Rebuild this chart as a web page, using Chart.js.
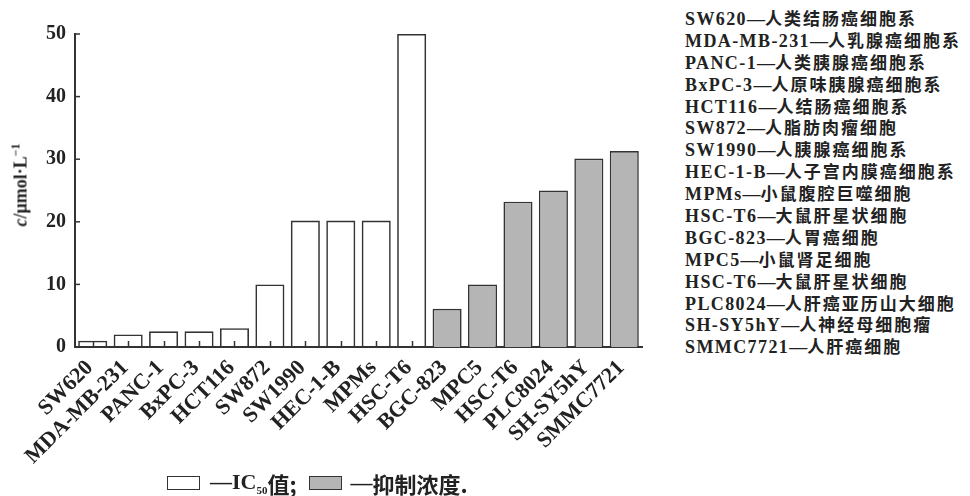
<!DOCTYPE html>
<html>
<head>
<meta charset="utf-8">
<script src="https://cdn.jsdelivr.net/npm/chart.js@4.4.1/dist/chart.umd.min.js"></script>
<style>
  body { margin: 0; background: #fff; }
  #wrap { position: relative; width: 970px; height: 496px; overflow: hidden; }
  #chartBox { position: absolute; left: 0; top: 0; width: 660px; height: 470px; }
  #yTitle {
    position: absolute; left: 20px; top: 185px;
    transform: translate(-50%, -50%) rotate(-90deg);
    font: bold 18px "Liberation Serif", serif; color: #222; white-space: nowrap;
  }
  #yTitle sup { font-size: 12px; }
  #legend {
    position: absolute; left: 167px; top: 471px; white-space: nowrap;
    font: bold 22px "Liberation Serif", "Noto Sans CJK SC", serif; color: #222;
    display: flex; align-items: center; height: 24px;
  }
  .lbox { display: inline-block; width: 31px; height: 12px; border: 1.5px solid #333; }
  .lbox.gray { background: #b5b5b5; }
  #legend sub { font-size: 11px; }
  .zh { font-family: "Noto Sans CJK SC", sans-serif; font-weight: 700; }
  #cells {
    position: absolute; left: 685px; top: 7px; color: #222;
    font: bold 18px "Liberation Serif", serif;
  }
  #cells div { height: 21.9px; line-height: 21.9px; white-space: nowrap; }
  #cells .en { letter-spacing: 1.4px; }
  #cells .zh { font-size: 17px; letter-spacing: 2px; font-weight: 600; }
</style>
</head>
<body>
<div id="wrap">
  <div id="chartBox"><canvas id="barCanvas"></canvas></div>
  <div id="yTitle"><i>c</i>/μmol·L<sup>−1</sup></div>
  <div id="legend">
    <span class="lbox"></span><span style="margin-left:10px">—IC<sub>50</sub></span><span class="zh">值;</span>
    <span class="lbox gray" style="margin-left:12px"></span><span style="margin-left:9px">—</span><span class="zh">抑制浓度.</span>
  </div>
  <div id="cells"></div>
</div>
<script>
const categories = ["SW620", "MDA-MB-231", "PANC-1", "BxPC-3", "HCT116", "SW872", "SW1990",
  "HEC-1-B", "MPMs", "HSC-T6", "BGC-823", "MPC5", "HSC-T6", "PLC8024", "SH-SY5hY", "SMMC7721"];
const ic50Values = [1.0, 2.0, 2.5, 2.5, 3.0, 10.0, 20.2, 20.2, 20.2, 50.0];
const inhibitValues = [6.1, 10.0, 23.2, 25.0, 30.1, 31.3];
const yTicks = [0, 10, 20, 30, 40, 50];
const cellNames = ["SW620", "MDA-MB-231", "PANC-1", "BxPC-3", "HCT116", "SW872", "SW1990", "HEC-1-B",
  "MPMs", "HSC-T6", "BGC-823", "MPC5", "HSC-T6", "PLC8024", "SH-SY5hY", "SMMC7721"];
const cellDesc = ["人类结肠癌细胞系", "人乳腺癌细胞系", "人类胰腺癌细胞系", "人原味胰腺癌细胞系",
  "人结肠癌细胞系", "人脂肪肉瘤细胞", "人胰腺癌细胞系", "人子宫内膜癌细胞系", "小鼠腹腔巨噬细胞",
  "大鼠肝星状细胞", "人胃癌细胞", "小鼠肾足细胞", "大鼠肝星状细胞", "人肝癌亚历山大细胞",
  "人神经母细胞瘤", "人肝癌细胞"];

// side list
const cells = document.getElementById("cells");
cellNames.forEach((n, i) => {
  const d = document.createElement("div");
  d.innerHTML = '<span class="en">' + n + '</span>—<span class="zh">' + cellDesc[i] + '</span>';
  cells.appendChild(d);
});

const ic50Data = ic50Values.concat(inhibitValues.map(() => null));
const inhibitData = ic50Values.map(() => null).concat(inhibitValues);

// inward tick marks, drawn under the bars
const innerTicks = {
  id: "innerTicks",
  beforeDatasetsDraw(chart) {
    const { ctx, chartArea, scales: { x, y } } = chart;
    ctx.save();
    ctx.strokeStyle = "#333";
    ctx.lineWidth = 1.5;
    x.ticks.forEach((t, i) => {
      const px = Math.round(x.getPixelForTick(i)) + 0.5;
      ctx.beginPath(); ctx.moveTo(px, chartArea.bottom); ctx.lineTo(px, chartArea.bottom - 6); ctx.stroke();
    });
    y.ticks.forEach((t, i) => {
      const py = y.getPixelForTick(i);
      ctx.beginPath(); ctx.moveTo(chartArea.left, py); ctx.lineTo(chartArea.left + 5, py); ctx.stroke();
    });
    ctx.restore();
  }
};

new Chart(document.getElementById("barCanvas"), {
  type: "bar",
  data: {
    labels: categories,
    datasets: [
      {
        label: "IC50值",
        data: ic50Data,
        backgroundColor: "rgba(255,255,255,0)",
        borderColor: "#333",
        borderWidth: 1.6,
        barPercentage: 0.82,
        categoryPercentage: 1
      },
      {
        label: "抑制浓度",
        data: inhibitData,
        backgroundColor: "#b5b5b5",
        borderColor: "#333",
        borderWidth: 1.6,
        barPercentage: 0.82,
        categoryPercentage: 1
      }
    ]
  },
  options: {
    responsive: true,
    maintainAspectRatio: false,
    animation: false,
    layout: { padding: { top: 34, right: 18, left: 0, bottom: 0 } },
    plugins: { legend: { display: false }, tooltip: { enabled: false } },
    scales: {
      x: {
        stacked: true,
        grid: { display: false, drawTicks: false },
        border: { display: true, color: "#333", width: 2 },
        ticks: {
          color: "#222", font: { family: "Liberation Serif", size: 22, weight: "bold" },
          minRotation: 45, maxRotation: 45, padding: 8, labelOffset: -3, autoSkip: false
        },
        afterFit(scale) { scale.height = 123; }
      },
      y: {
        stacked: true,
        min: 0, max: 50,
        afterBuildTicks(scale) { scale.ticks = yTicks.map(v => ({ value: v })); },
        grid: { display: false, drawTicks: false },
        border: { display: true, color: "#333", width: 2 },
        ticks: { color: "#222", font: { family: "Liberation Serif", size: 20, weight: "bold" }, padding: 9 },
        afterFit(scale) { scale.width = 75; }
      }
    }
  },
  plugins: [innerTicks]
});
</script>
</body>
</html>
